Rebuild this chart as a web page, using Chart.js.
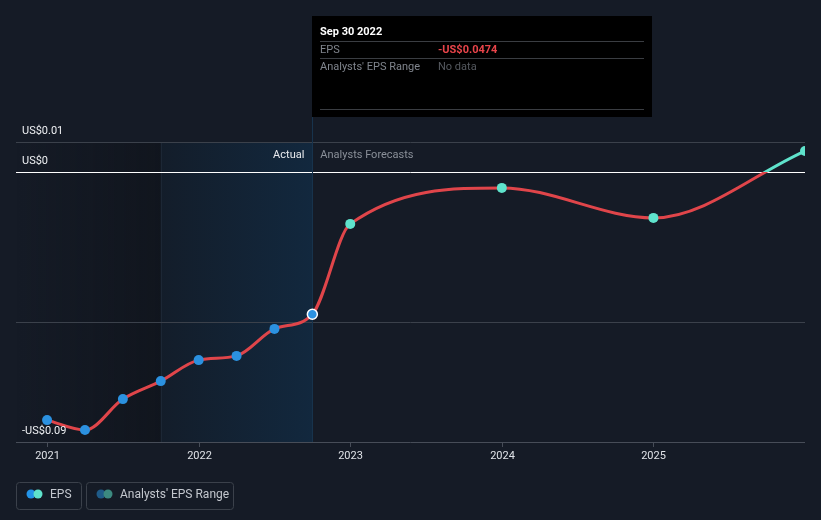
<!DOCTYPE html>
<html>
<head>
<meta charset="utf-8">
<script src="https://cdn.jsdelivr.net/npm/chart.js@4.4.1/dist/chart.umd.min.js"></script>
<style>
html,body{margin:0;padding:0;background:#151b26;}
#wrap{width:821px;height:520px;position:relative;}
</style>
</head>
<body>
<div id="wrap"><canvas id="c" width="821" height="520"></canvas></div>
<script>
// ---- data ----
const dates = [2021.0, 2021.25, 2021.5, 2021.75, 2022.0, 2022.25, 2022.5, 2022.75, 2023.0, 2024.0, 2025.0, 2026.0];
const eps = [-0.0827, -0.0860, -0.0757, -0.0697, -0.0627, -0.0613, -0.0523, -0.0474, -0.0173, -0.0053, -0.0153, 0.0070];
const actualCount = 8;
const yearTicks = [2021, 2022, 2023, 2024, 2025];
const yTickValues = [0.01, 0, -0.05, -0.09];
const yTickLabels = ['US$0.01', 'US$0', '', '-US$0.09'];
const highlightStart = 2021.75;
const highlightEnd = 2022.75;
const tooltipDate = 'Sep 30 2022';
const tooltipValue = '-US$0.0474';

const FONT = 'Roboto, "Noto Sans", sans-serif';
const RED = '#e0454a';
const TEAL = '#5fe3cc';
const BLUE = '#2b91e0';

const bgPlugin = {
  id: 'bg',
  beforeDatasetsDraw(chart) {
    const {ctx, chartArea: a, scales: {x, y}} = chart;
    const top = y.getPixelForValue(0.01);
    const hx0 = x.getPixelForValue(highlightStart);
    const hx1 = x.getPixelForValue(highlightEnd);
    ctx.save();
    // left dark region
    let g = ctx.createLinearGradient(a.left, 0, hx0, 0);
    g.addColorStop(0, 'rgba(10,12,16,0.0)');
    g.addColorStop(1, 'rgba(10,12,16,0.35)');
    ctx.fillStyle = g;
    ctx.fillRect(a.left, top, hx0 - a.left, a.bottom - top);
    // highlight region
    g = ctx.createLinearGradient(hx0, 0, hx1, 0);
    g.addColorStop(0, '#131d2a');
    g.addColorStop(1, '#12283e');
    ctx.fillStyle = g;
    ctx.fillRect(hx0, top, hx1 - hx0, a.bottom - top);
    ctx.strokeStyle = '#1c2735';
    ctx.lineWidth = 1;
    ctx.beginPath(); ctx.moveTo(Math.round(hx0) + 0.5, top); ctx.lineTo(Math.round(hx0) + 0.5, a.bottom); ctx.stroke();
    // gridlines
    yTickValues.forEach(v => {
      const py = Math.round(y.getPixelForValue(v)) + 0.5;
      if (v === 0) { ctx.strokeStyle = '#ffffff'; }
      else if (v === -0.09) { ctx.strokeStyle = '#474d58'; }
      else { ctx.strokeStyle = '#3b414b'; }
      ctx.beginPath(); ctx.moveTo(a.left, py); ctx.lineTo(a.right, py); ctx.stroke();
    });
    // vertical line at highlight end
    ctx.strokeStyle = '#17334c';
    ctx.beginPath(); ctx.moveTo(Math.round(hx1) + 0.5, 16); ctx.lineTo(Math.round(hx1) + 0.5, a.bottom); ctx.stroke();
    // x ticks + labels
    ctx.strokeStyle = '#474d58';
    ctx.fillStyle = '#dfe2e7';
    ctx.font = '11px ' + FONT;
    ctx.textAlign = 'center';
    ctx.textBaseline = 'middle';
    yearTicks.forEach(t => {
      const px = Math.round(x.getPixelForValue(t)) + 0.5;
      ctx.beginPath(); ctx.moveTo(px, a.bottom); ctx.lineTo(px, a.bottom + 5); ctx.stroke();
      ctx.fillText(String(t), px, 456);
    });
    // Actual / Forecast labels
    ctx.textAlign = 'right';
    ctx.fillStyle = '#e8eaee';
    ctx.fillText('Actual', hx1 - 8, 155);
    ctx.textAlign = 'left';
    ctx.fillStyle = '#8a9099';
    ctx.fillText('Analysts Forecasts', hx1 + 8, 155);
    ctx.restore();
  },
  afterDatasetsDraw(chart) {
    const {ctx, scales: {x, y}} = chart;
    ctx.save();
    // y labels
    ctx.font = '11px ' + FONT;
    ctx.textAlign = 'left';
    ctx.textBaseline = 'middle';
    ctx.fillStyle = '#eef0f3';
    yTickValues.forEach((v, i) => {
      if (!yTickLabels[i]) return;
      ctx.fillText(yTickLabels[i], 22, y.getPixelForValue(v) - 11);
    });
    // tooltip box
    const hx1 = Math.round(x.getPixelForValue(highlightEnd));
    const bx = hx1, by = 16, bw = 340, bh = 101;
    ctx.fillStyle = '#000000';
    ctx.fillRect(bx, by, bw, bh);
    ctx.fillStyle = '#ffffff';
    ctx.font = 'bold 11px ' + FONT;
    ctx.fillText(tooltipDate, bx + 8, 32);
    ctx.strokeStyle = '#3a3d42';
    ctx.lineWidth = 1;
    [41.5, 58.5, 109.5].forEach(ly => {
      ctx.beginPath(); ctx.moveTo(bx + 8, ly); ctx.lineTo(bx + bw - 8, ly); ctx.stroke();
    });
    ctx.font = '11px ' + FONT;
    ctx.fillStyle = '#80858d';
    ctx.fillText('EPS', bx + 8, 50);
    ctx.fillText("Analysts' EPS Range", bx + 8, 67);
    ctx.fillStyle = '#e8444a';
    ctx.font = 'bold 11px ' + FONT;
    ctx.fillText(tooltipValue, bx + 126, 50);
    ctx.fillStyle = '#55595f';
    ctx.font = '11px ' + FONT;
    ctx.fillText('No data', bx + 126, 67);
    // legend
    function pill(x0, w, c1, c2, label) {
      ctx.strokeStyle = '#3b414b';
      ctx.lineWidth = 1;
      ctx.beginPath();
      ctx.roundRect(x0 + 0.5, 482.5, w, 27, 3);
      ctx.stroke();
      ctx.fillStyle = c1;
      ctx.beginPath(); ctx.arc(x0 + 15, 494, 4.5, 0, Math.PI * 2); ctx.fill();
      ctx.fillStyle = c2;
      ctx.beginPath(); ctx.arc(x0 + 22, 494, 4.5, 0, Math.PI * 2); ctx.fill();
      ctx.fillStyle = '#c3c7ce';
      ctx.font = '12px ' + FONT;
      ctx.fillText(label, x0 + 34, 495);
    }
    pill(16, 65, '#2394e8', TEAL, 'EPS');
    pill(86, 147, '#1f5b88', '#3c8a80', "Analysts' EPS Range");
    ctx.restore();
  }
};

new Chart(document.getElementById('c'), {
  type: 'line',
  data: {
    datasets: [{
      data: dates.map((d, i) => ({x: d, y: eps[i]})),
      borderWidth: 3,
      cubicInterpolationMode: 'monotone',
      borderColor(ctx) {
        const chart = ctx.chart;
        const a = chart.chartArea;
        if (!a) return RED;
        const y0 = chart.scales.y.getPixelForValue(0);
        const f = Math.min(1, Math.max(0, (y0 - a.top) / (a.bottom - a.top)));
        const g = chart.ctx.createLinearGradient(0, a.top, 0, a.bottom);
        g.addColorStop(0, TEAL);
        g.addColorStop(f, TEAL);
        g.addColorStop(f, RED);
        g.addColorStop(1, RED);
        return g;
      },
      pointRadius: 5,
      pointHoverRadius: 5,
      pointBackgroundColor: ctx => ctx.dataIndex < actualCount ? BLUE : TEAL,
      pointBorderColor: ctx => ctx.dataIndex === actualCount - 1 ? '#ffffff' : (ctx.dataIndex < actualCount ? BLUE : TEAL),
      pointBorderWidth: ctx => ctx.dataIndex === actualCount - 1 ? 1.5 : 0
    }]
  },
  options: {
    responsive: false,
    animation: false,
    events: [],
    layout: {padding: {left: 16, right: 16, top: 142, bottom: 78}},
    plugins: {legend: {display: false}, tooltip: {enabled: false}},
    scales: {
      x: {type: 'linear', min: 2020.795, max: 2026.0, display: false},
      y: {min: -0.09, max: 0.01, display: false}
    }
  },
  plugins: [bgPlugin]
});
</script>
</body>
</html>
